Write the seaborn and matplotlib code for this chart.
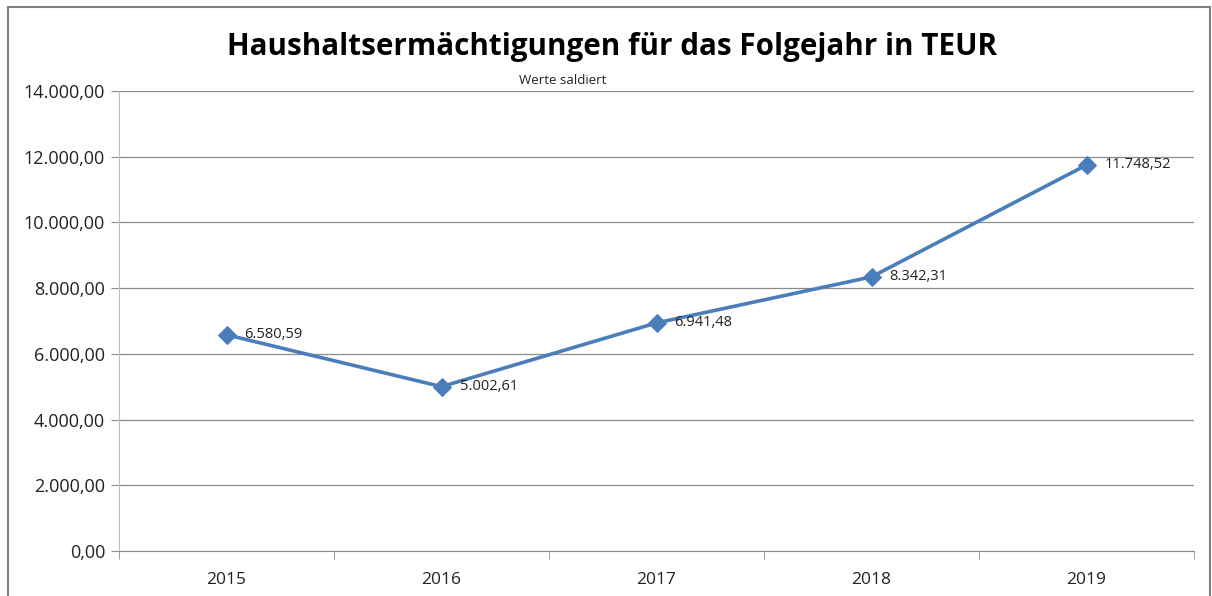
import pandas as pd
import matplotlib.pyplot as plt
import seaborn as sns
from matplotlib.patches import Rectangle
from matplotlib.ticker import FuncFormatter, FixedLocator

years = ["2015", "2016", "2017", "2018", "2019"]
values = [6580.59, 5002.61, 6941.48, 8342.31, 11748.52]
yticks = [0, 2000, 4000, 6000, 8000, 10000, 12000, 14000]


def de_fmt(v):
    s = f"{v:,.2f}"
    return s.replace(",", "X").replace(".", ",").replace("X", ".")


sns.set_style("white")
plt.rcParams['font.family'] = ['Open Sans', 'DejaVu Sans']

df = pd.DataFrame({"Jahr": years, "Wert": values})

fig = plt.figure(figsize=(12.12, 5.96), dpi=100)
ax = fig.add_axes([119 / 1212, 1 - 551 / 596, (1194 - 119) / 1212, (551 - 91) / 596])

sns.lineplot(data=df, x="Jahr", y="Wert", ax=ax, color="#4A7EBB", linewidth=2.6,
             marker="D", markersize=9, markeredgecolor="#4A7EBB", sort=False)

for i, v in enumerate(values):
    ax.annotate(de_fmt(v), (i, v), xytext=(13, 0), textcoords="offset points",
                ha="left", va="center", fontsize=10.5, color="#222222")

ax.set_xlim(-0.5, len(years) - 0.5)
ax.set_ylim(0, 14000)
ax.yaxis.set_major_locator(FixedLocator(yticks))
ax.yaxis.set_major_formatter(FuncFormatter(lambda v, p: de_fmt(v)))
ax.grid(axis="y", color="#8c8c8c", linewidth=0.9)
ax.set_axisbelow(True)

ax.set_xticks(range(len(years)))
ax.set_xticklabels(years)
ax.set_xticks([i - 0.5 for i in range(len(years) + 1)], minor=True)
ax.tick_params(axis="x", which="major", length=0, pad=15, labelsize=12.5, labelcolor="#222222")
ax.tick_params(axis="x", which="minor", length=6, color="#8c8c8c", direction="out", bottom=True)
ax.tick_params(axis="y", length=6, color="#8c8c8c", direction="out", left=True,
               labelsize=13, labelcolor="#222222", pad=4)

for side in ["top", "right"]:
    ax.spines[side].set_visible(False)
ax.spines["left"].set_color("#bfbfbf")
ax.spines["bottom"].set_color("#8c8c8c")
ax.set_xlabel("")
ax.set_ylabel("")

fig.text(612 / 1212, 1 - 47 / 596, "Haushaltsermächtigungen für das Folgejahr in TEUR",
         ha="center", va="center", fontsize=21.3, fontweight="bold", color="black")
fig.text(563 / 1212, 1 - 80 / 596, "Werte saldiert", ha="center", va="center",
         fontsize=9.5, color="#222222")

fig.patches.append(Rectangle((8 / 1212, -0.05), (1210 - 8) / 1212, 1 - 7 / 596 + 0.05,
                             transform=fig.transFigure, fill=False,
                             edgecolor="#7f7f7f", linewidth=1.5))

plt.savefig("out.png", dpi=100)
plt.close("all")
